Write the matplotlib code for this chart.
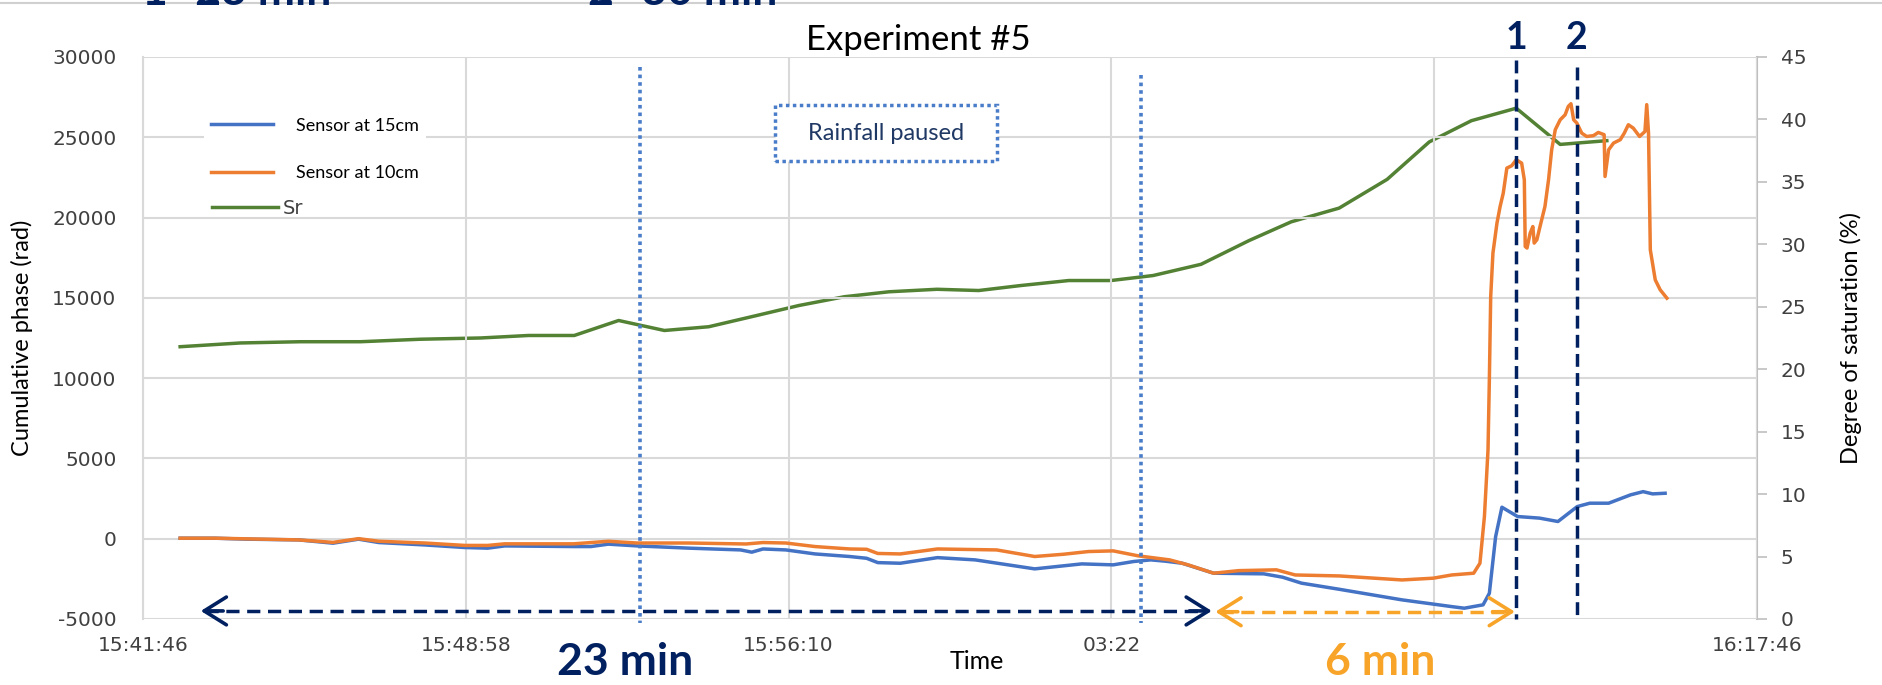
import matplotlib
matplotlib.use("Agg")
import matplotlib.pyplot as plt
from matplotlib.patches import Rectangle
from matplotlib.lines import Line2D

# time axis in minutes after 15:41:46
tick_pos = [0, 7.2, 14.4, 21.6, 28.8, 36]
tick_labels = ["15:41:46", "15:48:58", "15:56:10", "03:22", "", "16:17:46"]

# sensor at 15 cm (cumulative phase, rad)
s15_t = [0.83, 1.61, 2.32, 3.47, 4.24, 4.81, 5.26, 6.29, 7.18, 7.69, 8.07, 9.61, 9.99,
         10.38, 11.02, 12.18, 13.33, 13.58, 13.83, 14.34, 14.99, 15.76, 16.14, 16.39,
         16.89, 17.72, 18.56, 19.89, 20.94, 21.64, 22.1, 22.48, 22.8, 23.18, 23.88,
         25.0, 25.42, 25.84, 26.68, 28.08, 29.19, 29.47, 29.89, 30.03, 30.17, 30.31,
         30.66, 31.15, 31.56, 31.99, 32.27, 32.69, 33.18, 33.46, 33.67, 33.95]
s15_v = [30, 30, -30, -75, -280, -30, -240, -390, -550, -590, -450, -490, -490,
         -340, -450, -590, -700, -840, -640, -700, -950, -1110, -1220, -1490,
         -1530, -1180, -1320, -1880, -1570, -1630, -1420, -1320, -1400, -1530, -2150,
         -2190, -2400, -2770, -3150, -3810, -4230, -4330, -4120, -3400, 130, 1960,
         1380, 1280, 1070, 2000, 2210, 2210, 2730, 2930, 2790, 2830]

# sensor at 10 cm (cumulative phase, rad)
s10_t = [0.83, 1.61, 3.47, 4.24, 4.81, 5.26, 6.29, 7.18, 7.69, 8.07, 9.61, 10.38,
         11.02, 12.18, 13.45, 13.83, 14.34, 14.99, 15.76, 16.14, 16.39, 16.89, 17.72,
         19.04, 19.89, 20.53, 21.09, 21.64, 22.2, 22.9, 23.31, 23.88, 24.44, 25.28,
         25.7, 26.68, 28.08, 28.78, 29.19, 29.68, 29.82, 29.92, 30.0, 30.03, 30.06,
         30.11, 30.2, 30.27, 30.34, 30.42, 30.53, 30.63, 30.75, 30.81, 30.83, 30.87,
         30.94, 31.0, 31.03, 31.09, 31.16, 31.27, 31.35, 31.42, 31.5, 31.61, 31.72,
         31.79, 31.85, 31.91, 31.98, 32.09, 32.2, 32.35, 32.46, 32.59, 32.61, 32.69,
         32.8, 32.95, 33.04, 33.13, 33.24, 33.38, 33.5, 33.54, 33.58, 33.62, 33.73,
         33.84, 33.99]
s10_v = [30, 30, -75, -230, 0, -160, -270, -420, -420, -320, -320, -160,
         -270, -270, -330, -240, -270, -490, -640, -660, -920, -950, -640,
         -700, -1110, -970, -800, -760, -1070, -1320, -1630, -2150, -1990, -1940,
         -2260, -2320, -2570, -2460, -2260, -2150, -1530, 1380, 5530, 9890, 15080,
         17790, 19660, 20690, 21520, 23080, 23230, 23600, 23390, 22350, 18200, 18100,
         19030, 19440, 18410, 18620, 19440, 20690, 22350, 24220, 25470, 26090, 26400,
         26920, 27090, 26090, 25890, 25260, 25050, 25100, 25300, 25160, 22560, 24220,
         24640, 24850, 25260, 25780, 25570, 25050, 25360, 27030, 25260, 17990, 16120,
         15500, 14980]

# degree of saturation Sr (%)
sr_t = [0.83, 2.17, 3.51, 4.85, 6.19, 7.53, 8.6, 9.62, 10.61, 11.63, 12.62, 13.69,
        14.63, 15.64, 16.64, 17.71, 18.64, 19.58, 20.65, 21.59, 22.53, 23.6, 24.67,
        25.61, 26.68, 27.75, 28.69, 29.63, 30.63, 31.61, 32.65]
sr_v = [21.8, 22.1, 22.2, 22.2, 22.4, 22.5, 22.7, 22.7, 23.9, 23.1, 23.4, 24.3,
        25.1, 25.8, 26.2, 26.4, 26.3, 26.7, 27.1, 27.1, 27.5, 28.4, 30.3,
        31.8, 32.9, 35.2, 38.2, 39.9, 40.9, 38.0, 38.3]

rain_pause = [11.08, 22.27]
events = [30.63, 31.98]
event_names = ["1", "2"]

BLUE = "#4472C4"
ORANGE = "#ED7D31"
GREEN = "#548235"
NAVY = "#002060"
GOLD = "#F7A428"
GRID = "#D9D9D9"
TICK = "#404040"

plt.rcParams["font.family"] = ["Lato", "DejaVu Sans"]
plt.rcParams["axes.unicode_minus"] = False

fig = plt.figure(figsize=(18.83, 6.85), dpi=100)
fig.subplots_adjust(left=0.0759, right=0.9331, top=0.9168, bottom=0.0964)
ax = fig.add_subplot(111)
ax2 = ax.twinx()
ax.set_zorder(ax2.get_zorder() + 1)
ax.patch.set_visible(False)

l15, = ax.plot(s15_t, s15_v, color=BLUE, lw=2.5, zorder=3)
l10, = ax.plot(s10_t, s10_v, color=ORANGE, lw=2.5, zorder=3)
lsr, = ax2.plot(sr_t, sr_v, color=GREEN, lw=2.5)

ax.set_xlim(0, 36)
ax.set_ylim(-5000, 30000)
ax2.set_ylim(0, 45)
ax.set_yticks(range(-5000, 30001, 5000))
ax2.set_yticks(range(0, 46, 5))
ax.set_xticks(tick_pos)
ax.set_xticklabels(tick_labels)
ax.grid(True, color=GRID, lw=1.5, zorder=0)
ax.set_axisbelow(True)

for a in (ax, ax2):
    for s in ("top", "bottom"):
        a.spines[s].set_visible(False)
ax.spines["left"].set_color(GRID)
ax.spines["left"].set_linewidth(1.5)
ax.spines["right"].set_visible(False)
ax2.spines["left"].set_visible(False)
ax2.spines["right"].set_color("#BFBFBF")
ax2.spines["right"].set_linewidth(1.5)

ax.tick_params(axis="both", length=0, labelcolor=TICK, labelsize=14.5)
ax.tick_params(axis="y", pad=19)
ax.tick_params(axis="x", pad=12)
ax2.tick_params(axis="y", length=7, width=1.2, color="#BFBFBF", labelcolor=TICK,
                labelsize=14.5, pad=10)
for lab in ax.get_xticklabels() + ax.get_yticklabels() + ax2.get_yticklabels():
    lab.set_family("DejaVu Sans")

ax.set_ylabel("Cumulative phase (rad)", fontsize=17, labelpad=14)
ax2.set_ylabel("Degree of saturation (%)", fontsize=17, labelpad=24)
ax.text(18.6, -7650, "Time", fontsize=18, ha="center", va="center")

# rainfall pause markers
for x in rain_pause:
    ax.plot([x, x], [29400 if x < 20 else 28900, -5250], color="#4A7DC9", lw=2.6,
            ls=(0, (1, 1.1)), clip_on=False, zorder=4)

# event markers 1 and 2
for x, name, top in zip(events, event_names, [29830, 29390]):
    ax.plot([x, x], [top, -5000], color=NAVY, lw=2.5, ls=(0, (3.7, 1.8)),
            clip_on=False, zorder=6)
    fig.text((143 + x * 44.83) / 1883, 1 - 38 / 685, name, fontsize=27,
             fontweight="bold", color=NAVY, ha="center", va="center")


def dashed_arrow(x0, x1, y, color):
    ax.plot([x0 + 0.1, x1 - 0.1], [y, y], color=color, lw=2.5, ls=(0, (3.8, 2.2)),
            clip_on=False, zorder=6)
    for tip, tail in ((x0, x0 + 0.5), (x1, x1 - 0.5)):
        ax.annotate("", xy=(tip, y), xytext=(tail, y), annotation_clip=False,
                    arrowprops=dict(arrowstyle="->,head_length=0.8,head_width=0.5",
                                    color=color, lw=2.6, mutation_scale=20,
                                    shrinkA=0, shrinkB=0), zorder=6)


dashed_arrow(1.29, 23.84, -4500, NAVY)
dashed_arrow(23.92, 30.6, -4550, GOLD)
ax.text(10.75, -7650, "23 min", fontsize=32, fontweight="bold", color=NAVY,
        ha="center", va="center")
ax.text(27.6, -7650, "6 min", fontsize=32, fontweight="bold", color=GOLD,
        ha="center", va="center")

# rainfall paused box
ax.add_patch(Rectangle((14.10, 23540), 4.95, 3490, facecolor="white",
                       edgecolor="#4A7DC9", lw=2.5, ls=(0, (1, 1)), zorder=5))
ax.text(16.57, 25250, "Rainfall paused", fontsize=17, color="#1F3864",
        ha="center", va="center", zorder=6)

# legends
leg1 = ax.legend([l15, l10], ["Sensor at 15cm", "Sensor at 10cm"], loc="upper left",
                 bbox_to_anchor=(0.038, 0.905), fontsize=13, handlelength=3.4,
                 handletextpad=1.3, labelspacing=1.75, borderpad=0.4,
                 borderaxespad=0, frameon=True, facecolor="white",
                 edgecolor="none", framealpha=1, fancybox=False)
leg1.set_zorder(7)
ax.add_artist(leg1)
leg2 = ax.legend([lsr], ["Sr"], loc="upper left", bbox_to_anchor=(0.0428, 0.748),
                 prop={"family": "DejaVu Sans", "size": 14}, handlelength=3.4,
                 handletextpad=0.25, borderpad=0, borderaxespad=0, frameon=False)
for t in leg2.get_texts():
    t.set_color(TICK)

# title with its white backing
fig.add_artist(Rectangle((760 / 1883, 1 - 72 / 685), 317 / 1883, 72 / 685,
                         transform=fig.transFigure, facecolor="white",
                         edgecolor="none", zorder=1))
fig.text(918 / 1883, 1 - 40 / 685, "Experiment #5", fontsize=25, ha="center",
         va="center", zorder=2)

# notes along the top edge, cut off by the frame as in the source picture
fig.add_artist(Line2D([0, 1], [1 - 3 / 685, 1 - 3 / 685], transform=fig.transFigure,
                      color="#D0D0D0", lw=1.5))
fig.text(142 / 1883, 1 - 5 / 685, "1- 23 min", fontsize=32, fontweight="bold",
         color=NAVY, va="baseline")
fig.text(588 / 1883, 1 - 5 / 685, "2- 30 min", fontsize=32, fontweight="bold",
         color=NAVY, va="baseline")

fig.savefig("out.png", dpi=100)
